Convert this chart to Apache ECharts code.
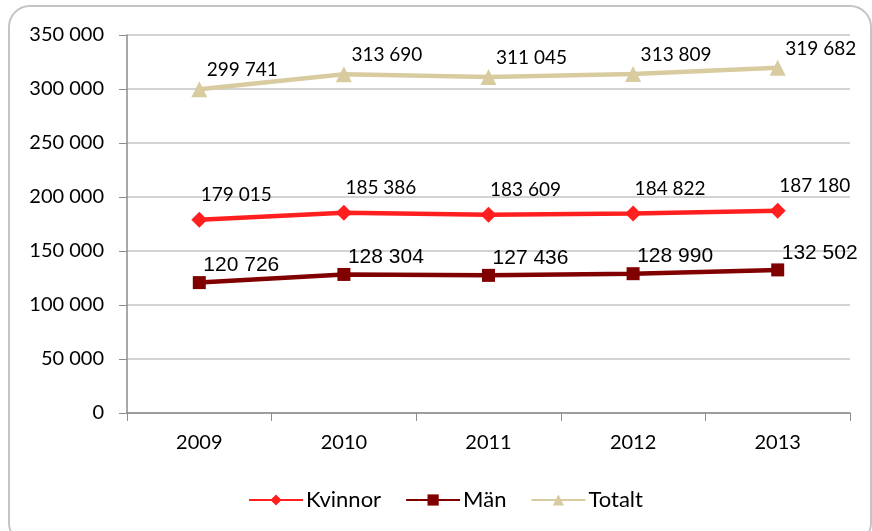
<!DOCTYPE html>
<html>
<head>
<meta charset="utf-8">
<script src="https://cdn.jsdelivr.net/npm/echarts@6/dist/echarts.min.js"></script>
<style>
  html, body { margin: 0; padding: 0; background: #fff; overflow: hidden; }
  #frame {
    position: absolute; left: 8px; top: 5px; width: 864px; height: 540px;
    border: 2px solid #c4c4c4; border-radius: 22px; box-sizing: border-box;
  }
  #chart { position: absolute; left: 0; top: 0; width: 872px; height: 531px; }
</style>
</head>
<body>
<div id="frame"></div>
<div id="chart"></div>
<script>
const years = ['2009', '2010', '2011', '2012', '2013'];
const kvinnor = [179015, 185386, 183609, 184822, 187180];
const man = [120726, 128304, 127436, 128990, 132502];
const totalt = [299741, 313690, 311045, 313809, 319682];

// mellanslag som tusentalsavgränsare
const fmt = v => String(v).replace(/\B(?=(\d{3})+(?!\d))/g, ' ');
const font = 'Lato, "Open Sans", sans-serif';
const arial = 'Arial, "Liberation Sans", sans-serif';

const chart = echarts.init(document.getElementById('chart'));

function line(name, data, color, symbol, size, offset, labelFont, labelSize) {
  return {
    name: name,
    type: 'line',
    data: data,
    symbol: symbol,
    symbolSize: size,
    lineStyle: { color: color, width: 4.5 },
    itemStyle: { color: color },
    label: {
      show: true,
      position: 'inside',
      offset: offset,
      formatter: p => fmt(p.value),
      color: '#000',
      fontFamily: labelFont,
      fontSize: labelSize
    },
    animation: false
  };
}

chart.setOption({
  textStyle: { fontFamily: font },
  grid: { left: 127, right: 22, top: 35, bottom: 118 },
  legend: {
    top: 484,
    left: 243,
    itemWidth: 54,
    itemHeight: 14,
    itemGap: 24,
    textStyle: { fontSize: 22, color: '#000', fontFamily: font, padding: [0, 0, 0, -2] },
    data: ['Kvinnor', 'Män', 'Totalt']
  },
  xAxis: {
    type: 'category',
    data: years,
    boundaryGap: true,
    axisLine: { lineStyle: { color: '#8c8c8c', width: 1.5 } },
    axisTick: { show: true, length: 8, lineStyle: { color: '#8c8c8c' } },
    axisLabel: { color: '#000', fontSize: 20, margin: 20, fontFamily: font }
  },
  yAxis: {
    type: 'value',
    min: 0,
    max: 350000,
    interval: 50000,
    axisLine: { show: true, lineStyle: { color: '#8c8c8c', width: 1.5 } },
    axisTick: { show: true, inside: false, length: 8, lineStyle: { color: '#8c8c8c' } },
    splitLine: { lineStyle: { color: '#c4c4c4', width: 1.5 } },
    axisLabel: { color: '#000', fontSize: 20, margin: 23, formatter: fmt, fontFamily: font }
  },
  series: [
    line('Kvinnor', kvinnor, '#ff1f1f', 'diamond', 16, [37, -25], font, 19),
    line('Män', man, '#800000', 'rect', 13, [42, -17], arial, 21),
    line('Totalt', totalt, '#d8cba0', 'triangle', 16, [43, -19], font, 19)
  ]
});
</script>
</body>
</html>
